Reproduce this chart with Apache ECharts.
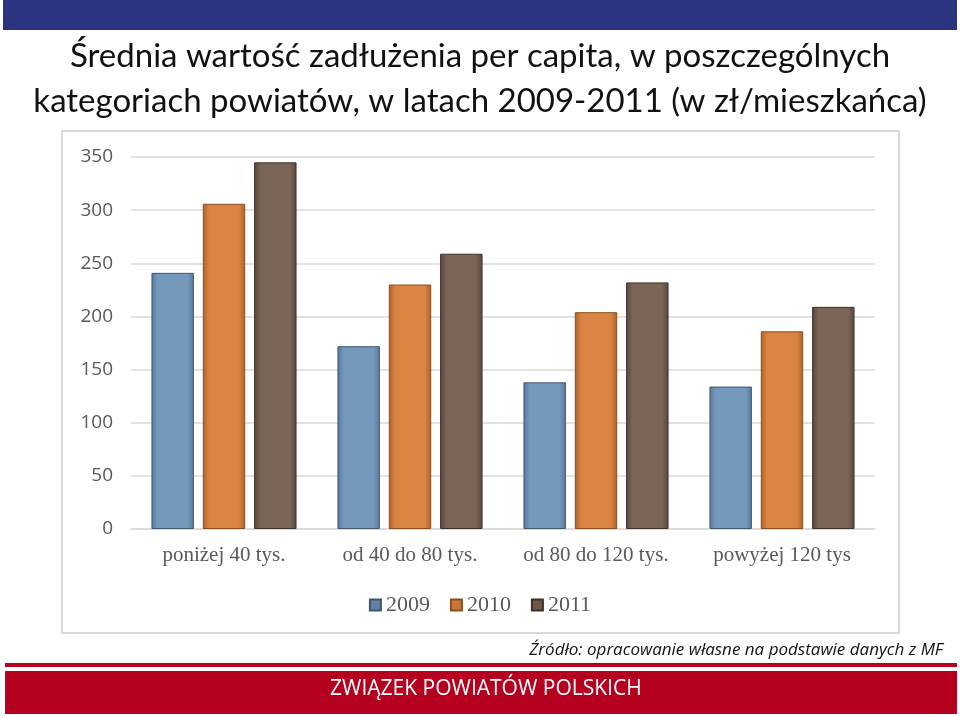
<!DOCTYPE html>
<html><head><meta charset="utf-8">
<script src="https://cdn.jsdelivr.net/npm/echarts@6/dist/echarts.min.js"></script>
<style>html,body{margin:0;padding:0;background:#fff}#c{width:960px;height:716px}</style>
</head><body><div id="c"></div>
<script>
const categories = ['poniżej 40 tys.', 'od 40 do 80 tys.', 'od 80 do 120 tys.', 'powyżej 120 tys'];
const seriesNames = ['2009', '2010', '2011'];
const values2009 = [241, 172, 138, 134];
const values2010 = [306, 230, 204, 186];
const values2011 = [345, 259, 232, 209];
const yTicks = { min: 0, max: 350, interval: 50 };

const grad = (edge, mid) => ({
  type: 'linear', x: 0, y: 0, x2: 1, y2: 0,
  colorStops: [{offset: 0, color: edge}, {offset: 0.15, color: mid}, {offset: 0.85, color: mid}, {offset: 1, color: edge}]
});
const styles = [
  {color: grad('#56789a', '#7599bd'), borderColor: '#3f5870', legend: '#5f82a6'},
  {color: grad('#a9612a', '#da8543'), borderColor: '#8a4f20', legend: '#c8763a'},
  {color: grad('#56463b', '#7a6556'), borderColor: '#3e3129', legend: '#6b5849'}
];
const dataSets = [values2009, values2010, values2011];

const chart = echarts.init(document.getElementById('c'), null, {renderer: 'canvas'});
chart.setOption({
  backgroundColor: '#fff',
  animation: false,
  title: {
    text: 'Średnia wartość zadłużenia per capita, w poszczególnych\nkategoriach powiatów, w latach 2009-2011 (w zł/mieszkańca)',
    left: 'center', top: 29,
    textStyle: {fontFamily: 'Lato', fontWeight: 'normal', fontSize: 33, color: '#111', lineHeight: 45}
  },
  legend: {
    top: 589, left: 'center',
    itemWidth: 11, itemHeight: 11, itemGap: 20,
    icon: 'rect',
    textStyle: {fontFamily: 'Liberation Serif', fontSize: 22, color: '#595959'},
    data: seriesNames.map((n, i) => ({name: n, itemStyle: {color: styles[i].legend}}))
  },
  grid: {left: 131, right: 85, top: 157, bottom: 187, containLabel: false},
  xAxis: {
    type: 'category', data: categories,
    axisLine: {lineStyle: {color: '#d9d9d9', width: 1.5}},
    axisTick: {show: false},
    axisLabel: {fontFamily: 'Liberation Serif', fontSize: 21, color: '#595959', margin: 16, interval: 0, hideOverlap: false}
  },
  yAxis: {
    type: 'value', min: yTicks.min, max: yTicks.max, interval: yTicks.interval,
    axisLine: {show: false}, axisTick: {show: false},
    splitLine: {lineStyle: {color: '#d9d9d9', width: 1.5}},
    axisLabel: {fontFamily: 'Open Sans', fontSize: 19, color: '#595959', margin: 18}
  },
  series: seriesNames.map((n, i) => ({
    name: n, type: 'bar', data: dataSets[i],
    barGap: '21%', barCategoryGap: '22%',
    itemStyle: {color: styles[i].color, borderColor: styles[i].borderColor, borderWidth: 1}
  })),
  graphic: [
    {type: 'rect', shape: {x: 3, y: 0, width: 954, height: 30}, style: {fill: '#2b3481'}, z: 0},
    {type: 'rect', shape: {x: 62, y: 131, width: 837, height: 502}, style: {fill: 'none', stroke: '#d9d9d9', lineWidth: 2}, z: 0},
    {type: 'text', right: 17, top: 642, style: {text: 'Źródło: opracowanie własne na podstawie danych z MF', font: 'italic 17px "Open Sans"', fill: '#111'}},
    {type: 'rect', shape: {x: 5, y: 663, width: 952, height: 4}, style: {fill: '#b5001f'}},
    {type: 'rect', shape: {x: 5, y: 671, width: 952, height: 43}, style: {fill: '#b5001f'}},
    {type: 'text', left: 330, top: 679, style: {text: 'ZWIĄZEK POWIATÓW POLSKICH', font: '21px "Open Sans"', fill: '#fff'}}
  ]
});
</script></body></html>
